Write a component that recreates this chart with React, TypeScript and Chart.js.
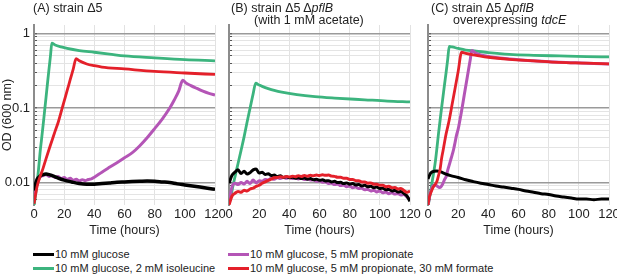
import React, { useEffect, useRef } from 'react';
import { Chart, registerables } from 'chart.js';
Chart.register(...registerables);

const FONT = '"Liberation Sans", Arial, Helvetica, sans-serif';
const TEXT = '#222222';
const COL_BLACK = '#000000';
const COL_GREEN = '#3cb47e';
const COL_PURPLE = '#b455b6';
const COL_RED = '#e4202a';

const SERIES_LABELS = [
  '10 mM glucose',
  '10 mM glucose, 2 mM isoleucine',
  '10 mM glucose, 5 mM propionate',
  '10 mM glucose, 5 mM propionate, 30 mM formate',
];

const X_TICKS = [0, 20, 40, 60, 80, 100, 120];
const Y_TICKS = [0.006, 0.007, 0.008, 0.009, 0.01, 0.02, 0.03, 0.04, 0.05, 0.06, 0.07, 0.08, 0.09, 0.1, 0.2, 0.3, 0.4, 0.5, 0.6, 0.7, 0.8, 0.9, 1];
const Y_MAJOR_LABELS: Record<string, string> = { '1': '1', '0.1': '0.1', '0.01': '0.01' };

// shared 2-hour sampling grid for the noisy traces of panel B
const T2 = [0, 2, 4, 6, 8, 10, 12, 14, 16, 18, 20, 22, 24, 26, 28, 30, 32, 34, 36, 38, 40, 42, 44, 46, 48, 50, 52, 54, 56, 58, 60, 62, 64, 66, 68, 70, 72, 74, 76, 78, 80, 82, 84, 86, 88, 90, 92, 94, 96, 98, 100, 102, 104, 106, 108, 110, 112, 114, 116, 118, 120];

// ---------- Panel A: strain Δ5 ----------
const A_black_t = [0, 1, 2, 4, 6, 8, 10, 13, 16, 20, 25, 30, 35, 40, 45, 50, 55, 60, 65, 70, 75, 80, 85, 90, 95, 100, 105, 110, 115, 120];
const A_black_od = [0.0078, 0.0095, 0.011, 0.0122, 0.0128, 0.013, 0.0128, 0.0122, 0.0115, 0.0108, 0.0102, 0.0097, 0.0095, 0.0095, 0.0097, 0.0099, 0.0101, 0.0102, 0.0103, 0.0104, 0.0105, 0.0104, 0.0102, 0.01, 0.0096, 0.0093, 0.009, 0.0087, 0.0084, 0.0081];
const A_green_t = [0, 1, 2, 3, 4, 5, 6, 7, 8, 9, 10, 11, 11.8, 14, 18, 22, 30, 40, 50, 60, 80, 100, 120];
const A_green_od = [0.0048, 0.0068, 0.0098, 0.015, 0.025, 0.038, 0.058, 0.09, 0.14, 0.22, 0.34, 0.52, 0.74, 0.7, 0.66, 0.63, 0.59, 0.56, 0.53, 0.5, 0.47, 0.445, 0.43];
const A_purple_t = [0, 2, 4, 6, 8, 10, 12, 14, 16, 18, 20, 22, 24, 26, 28, 30, 32, 34, 36, 38, 40, 45, 50, 55, 60, 65, 70, 75, 80, 85, 90, 93, 96, 98.6, 101, 104, 108, 112, 116, 120];
const A_purple_od = [0.006, 0.0095, 0.0118, 0.0124, 0.0128, 0.0121, 0.0125, 0.0117, 0.0121, 0.0113, 0.0117, 0.011, 0.0114, 0.0107, 0.0111, 0.0105, 0.0109, 0.0106, 0.011, 0.0112, 0.0118, 0.0138, 0.016, 0.0185, 0.0215, 0.025, 0.031, 0.04, 0.053, 0.071, 0.1, 0.128, 0.17, 0.235, 0.215, 0.2, 0.183, 0.168, 0.157, 0.149];
const A_red_t = [0, 1, 2, 4, 6, 8, 10, 12, 14, 16, 18, 20, 22, 24, 26, 27.9, 30, 35, 40, 45, 60, 80, 100, 120];
const A_red_od = [0.0052, 0.0068, 0.0088, 0.012, 0.0155, 0.021, 0.028, 0.037, 0.049, 0.064, 0.089, 0.124, 0.172, 0.24, 0.333, 0.46, 0.43, 0.39, 0.37, 0.355, 0.335, 0.31, 0.295, 0.282];

// ---------- Panel B: strain Δ5 ΔpflB (with 1 mM acetate) ----------
const B_black_od = [0.0098, 0.0125, 0.0138, 0.0148, 0.0132, 0.0142, 0.013, 0.0136, 0.0148, 0.0152, 0.0134, 0.0138, 0.0128, 0.0131, 0.0124, 0.0126, 0.012, 0.0123, 0.0117, 0.012, 0.0116, 0.0118, 0.0114, 0.0116, 0.0113, 0.0115, 0.0111, 0.0113, 0.0109, 0.0111, 0.0107, 0.0109, 0.0105, 0.0106, 0.0102, 0.0104, 0.01, 0.0101, 0.0097, 0.0099, 0.0095, 0.0097, 0.0093, 0.0094, 0.009, 0.0092, 0.0088, 0.0089, 0.0085, 0.0087, 0.0083, 0.0084, 0.008, 0.0081, 0.0077, 0.0079, 0.0075, 0.0076, 0.0071, 0.0066, 0.0056];
const B_green_t = [0, 1, 2, 3, 4, 5, 6, 8, 10, 12, 14, 16, 17.7, 20, 22, 26, 30, 35, 45, 57, 70, 90, 105, 120];
const B_green_od = [0.0052, 0.0062, 0.0078, 0.0098, 0.012, 0.0148, 0.018, 0.027, 0.041, 0.065, 0.1, 0.155, 0.215, 0.203, 0.195, 0.182, 0.172, 0.163, 0.151, 0.142, 0.136, 0.129, 0.124, 0.121];
const B_purple_od = [0.0052, 0.0088, 0.0098, 0.0094, 0.01, 0.0096, 0.0104, 0.0097, 0.0108, 0.0099, 0.0106, 0.0104, 0.011, 0.0108, 0.0114, 0.0111, 0.0116, 0.0113, 0.0117, 0.0114, 0.0117, 0.0113, 0.0116, 0.0112, 0.0114, 0.011, 0.0112, 0.0108, 0.0109, 0.0104, 0.0106, 0.0101, 0.0102, 0.0097, 0.0098, 0.0094, 0.0096, 0.0091, 0.0093, 0.0088, 0.009, 0.0085, 0.0087, 0.0083, 0.0084, 0.008, 0.0081, 0.0077, 0.0079, 0.0075, 0.0077, 0.0073, 0.0075, 0.0071, 0.0073, 0.007, 0.0071, 0.0068, 0.0069, 0.0064, 0.006];
const B_red_od = [0.005, 0.0066, 0.0072, 0.0076, 0.0074, 0.0079, 0.0077, 0.0082, 0.0084, 0.0089, 0.0092, 0.0098, 0.0102, 0.0107, 0.0111, 0.0116, 0.0117, 0.012, 0.0118, 0.0121, 0.0119, 0.0122, 0.012, 0.0123, 0.0121, 0.0124, 0.0122, 0.0125, 0.0123, 0.0126, 0.0124, 0.0127, 0.0125, 0.0126, 0.0122, 0.0121, 0.0118, 0.0118, 0.0114, 0.0114, 0.011, 0.011, 0.0106, 0.0106, 0.0102, 0.0102, 0.0098, 0.0099, 0.0095, 0.0095, 0.0092, 0.0092, 0.0088, 0.0089, 0.0085, 0.0086, 0.0082, 0.0083, 0.0078, 0.0074, 0.0077];

// ---------- Panel C: strain Δ5 ΔpflB overexpressing tdcE ----------
const C_black_t = [0, 1, 2, 4, 6, 8, 10, 12, 15, 20, 25, 30, 35, 40, 45, 50, 55, 60, 65, 70, 75, 80, 85, 90, 95, 100, 105, 110, 115, 120];
const C_black_od = [0.0112, 0.0125, 0.0135, 0.0142, 0.0143, 0.014, 0.0135, 0.013, 0.0124, 0.0117, 0.0109, 0.0103, 0.0098, 0.0094, 0.009, 0.0087, 0.0084, 0.0081, 0.0077, 0.0074, 0.0071, 0.0069, 0.0066, 0.0064, 0.0062, 0.006, 0.006, 0.0059, 0.006, 0.006];
const C_green_t = [0, 1, 2, 3, 4, 5, 6, 7, 8, 9, 10, 11, 12, 13, 14.1, 16, 20, 25, 32, 40, 54, 70, 87, 105, 120];
const C_green_od = [0.0048, 0.0062, 0.0082, 0.011, 0.0145, 0.02, 0.03, 0.046, 0.068, 0.1, 0.145, 0.21, 0.3, 0.44, 0.67, 0.66, 0.63, 0.6, 0.58, 0.555, 0.525, 0.51, 0.5, 0.49, 0.485];
const C_purple_t = [0, 1, 2, 3, 4, 5, 6, 7, 8, 9, 10, 11, 12, 13, 14, 15, 16, 17, 18, 19, 20, 21, 22, 24, 26, 28, 29, 32, 40, 54, 70, 87, 105, 120];
const C_purple_od = [0.0048, 0.0065, 0.0078, 0.0088, 0.0092, 0.0093, 0.009, 0.0087, 0.0086, 0.009, 0.0098, 0.011, 0.012, 0.0145, 0.017, 0.02, 0.0235, 0.028, 0.035, 0.044, 0.052, 0.066, 0.085, 0.148, 0.257, 0.445, 0.59, 0.54, 0.49, 0.455, 0.43, 0.41, 0.4, 0.39];
const C_red_t = [0, 1, 2, 3, 4, 5, 6, 7, 8, 9, 10, 11, 12, 13, 14, 16, 18, 20, 22.3, 25, 32, 40, 54, 70, 87, 105, 120];
const C_red_od = [0.005, 0.0065, 0.0074, 0.0083, 0.009, 0.0096, 0.0105, 0.0125, 0.015, 0.021, 0.027, 0.035, 0.045, 0.055, 0.068, 0.112, 0.186, 0.31, 0.56, 0.54, 0.51, 0.48, 0.45, 0.43, 0.41, 0.4, 0.39];

function pts(t: number[], v: number[]) {
  return t.map((x, i) => ({ x, y: v[i] }));
}

function isPow10(v: number) {
  return Math.abs(Math.log10(v) - Math.round(Math.log10(v))) < 1e-6;
}

type Series = { data: { x: number; y: number }[]; color: string; width: number; order: number };

function makeSeries(data: { x: number; y: number }[], color: string, width: number, order: number): Series {
  return { data, color, width, order };
}

const PANEL_A: Series[] = [
  makeSeries(pts(A_green_t, A_green_od), COL_GREEN, 2.8, 4),
  makeSeries(pts(A_purple_t, A_purple_od), COL_PURPLE, 3, 3),
  makeSeries(pts(A_black_t, A_black_od), COL_BLACK, 3.5, 2),
  makeSeries(pts(A_red_t, A_red_od), COL_RED, 2.8, 1),
];
const PANEL_B: Series[] = [
  makeSeries(pts(B_green_t, B_green_od), COL_GREEN, 2.8, 4),
  makeSeries(pts(T2, B_purple_od), COL_PURPLE, 3, 3),
  makeSeries(pts(T2, B_black_od), COL_BLACK, 3, 2),
  makeSeries(pts(T2, B_red_od), COL_RED, 3, 1),
];
const PANEL_C: Series[] = [
  makeSeries(pts(C_green_t, C_green_od), COL_GREEN, 2.8, 4),
  makeSeries(pts(C_purple_t, C_purple_od), COL_PURPLE, 3, 3),
  makeSeries(pts(C_black_t, C_black_od), COL_BLACK, 3, 2),
  makeSeries(pts(C_red_t, C_red_od), COL_RED, 2.8, 1),
];

const CANVAS_H = 240;

function Panel(props: { series: Series[]; left: number; width: number; yWidth: number; labels: boolean }) {
  const ref = useRef<HTMLCanvasElement | null>(null);
  const { series, left, width, yWidth, labels } = props;
  useEffect(() => {
    if (!ref.current) return;
    const font = { family: FONT, size: 13 };
    const titleFont = { family: FONT, size: 12.5 };
    const chart = new Chart(ref.current, {
      type: 'line',
      data: {
        datasets: series.map((s) => ({
          data: s.data,
          borderColor: s.color,
          backgroundColor: s.color,
          borderWidth: s.width,
          pointRadius: 0,
          fill: false,
          order: s.order,
          cubicInterpolationMode: 'monotone' as const,
          borderJoinStyle: 'round' as const,
        })),
      },
      options: {
        animation: false,
        responsive: false,
        maintainAspectRatio: false,
        layout: { padding: { left: 0, right: 13, top: 25, bottom: 0 } },
        plugins: { legend: { display: false }, tooltip: { enabled: false }, title: { display: false } },
        scales: {
          x: {
            type: 'linear',
            min: 0,
            max: 120,
            afterBuildTicks: (s: any) => {
              s.ticks = X_TICKS.map((v) => ({ value: v }));
            },
            ticks: { font, color: TEXT, padding: 2, maxRotation: 0, autoSkip: false },
            grid: { color: '#e2e2e2', lineWidth: 1, drawTicks: false },
            border: { display: false },
            title: { display: true, text: 'Time (hours)', font: titleFont, color: TEXT, padding: { top: 0, bottom: 2 } },
            afterFit: (s: any) => {
              s.height = 35;
            },
          },
          y: {
            type: 'logarithmic',
            min: 0.005,
            max: 1.3,
            afterBuildTicks: (s: any) => {
              s.ticks = Y_TICKS.map((v) => ({ value: v, major: isPow10(v) }));
            },
            ticks: {
              autoSkip: false,
              font,
              color: TEXT,
              padding: 7,
              callback: (v: any) => {
                if (!labels) return '';
                const key = String(Number(v));
                return Y_MAJOR_LABELS[key] ?? '';
              },
            },
            grid: {
              color: (c: any) => (c.tick && isPow10(c.tick.value) ? '#9a9a9a' : '#e4e4e4'),
              lineWidth: (c: any) => (c.tick && isPow10(c.tick.value) ? 1.5 : 1),
              tickColor: '#555555',
              tickLength: -3,
              tickWidth: 1,
            },
            border: { display: true, color: '#8c8c8c', width: 2 },
            title: { display: labels, text: 'OD (600 nm)', font: titleFont, color: TEXT, padding: 0 },
            afterFit: (s: any) => {
              s.width = yWidth;
            },
          },
        },
      } as any,
    });
    return () => chart.destroy();
  }, [series, yWidth, labels]);
  return (
    <canvas
      ref={ref}
      width={width}
      height={CANVAS_H}
      style={{ position: 'absolute', left, top: 0, width, height: CANVAS_H }}
    />
  );
}

const titleStyle: React.CSSProperties = {
  position: 'absolute',
  fontFamily: FONT,
  fontSize: 12.5,
  lineHeight: '15px',
  color: TEXT,
  whiteSpace: 'nowrap',
};

const legendText: React.CSSProperties = {
  position: 'absolute',
  fontFamily: FONT,
  fontSize: 11,
  lineHeight: '13px',
  color: TEXT,
  whiteSpace: 'nowrap',
};

function LegendItem(props: { x: number; y: number; color: string; label: string }) {
  const { x, y, color, label } = props;
  return (
    <>
      <div style={{ position: 'absolute', left: x, top: y - 1.5, width: 21, height: 3, background: color }} />
      <div style={{ ...legendText, left: x + 22, top: y - 6.5 }}>{label}</div>
    </>
  );
}

export default function App() {
  return (
    <div
      style={{
        position: 'fixed',
        left: 0,
        top: 0,
        width: 617,
        height: 275,
        background: '#ffffff',
        overflow: 'hidden',
      }}
    >
      <Panel series={PANEL_A} left={0} width={228} yWidth={34} labels={true} />
      <Panel series={PANEL_B} left={217} width={206} yWidth={12} labels={false} />
      <Panel series={PANEL_C} left={416} width={206} yWidth={12} labels={false} />

      <div style={{ ...titleStyle, left: 33, top: 1 }}>(A) strain Δ5</div>
      <div style={{ ...titleStyle, left: 231, top: 1 }}>
        (B) strain Δ5 Δ<i>pflB</i>
      </div>
      <div style={{ ...titleStyle, left: 254, top: 13 }}>(with 1 mM acetate)</div>
      <div style={{ ...titleStyle, left: 431, top: 1 }}>
        (C) strain Δ5 Δ<i>pflB</i>
      </div>
      <div style={{ ...titleStyle, left: 453, top: 13 }}>
        overexpressing <i>tdcE</i>
      </div>

      <LegendItem x={33} y={254} color={COL_BLACK} label={SERIES_LABELS[0]} />
      <LegendItem x={33} y={268} color={COL_GREEN} label={SERIES_LABELS[1]} />
      <LegendItem x={228} y={254} color={COL_PURPLE} label={SERIES_LABELS[2]} />
      <LegendItem x={228} y={268} color={COL_RED} label={SERIES_LABELS[3]} />
    </div>
  );
}
